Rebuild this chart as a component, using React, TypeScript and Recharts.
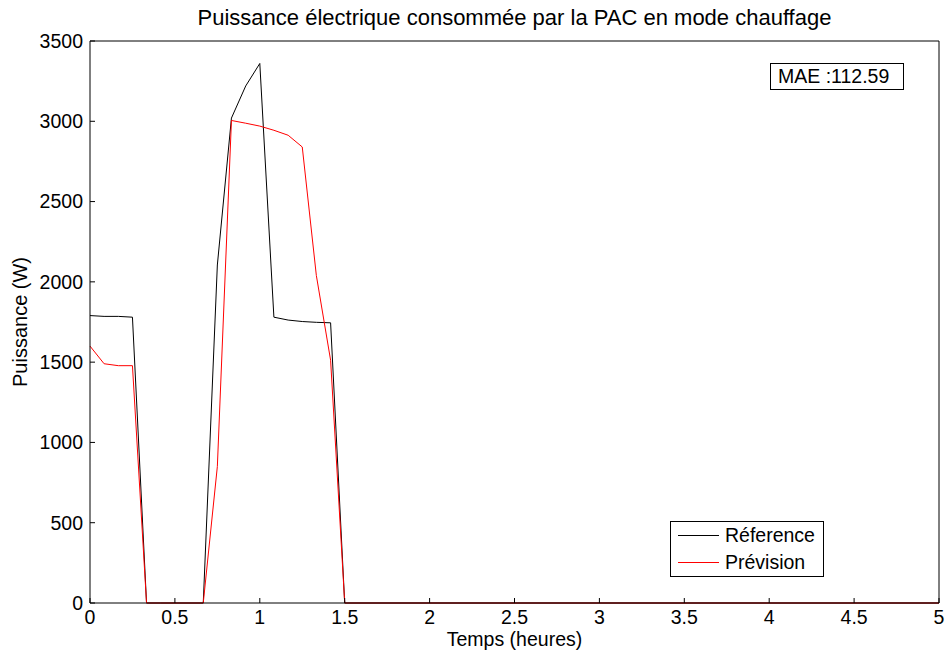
import { LineChart, Line, XAxis, YAxis, Legend } from 'recharts';

// temps en heures (pas de 5 min), puis plateau à 0 jusqu'à 5 h
const temps = [0, 0.083, 0.167, 0.25, 0.333, 0.417, 0.5, 0.583, 0.667, 0.75, 0.833, 0.917, 1, 1.083, 1.167, 1.25, 1.333, 1.417, 1.5, 5];
const reference = [1790, 1785, 1785, 1780, 0, 0, 0, 0, 0, 2105, 3020, 3220, 3360, 1780, 1762, 1753, 1748, 1745, 0, 0];
const prevision = [1600, 1490, 1478, 1478, 0, 0, 0, 0, 0, 850, 3005, 2988, 2970, 2944, 2913, 2840, 2040, 1512, 0, 0];

const xTicks = [0, 0.5, 1, 1.5, 2, 2.5, 3, 3.5, 4, 4.5, 5];
const yTicks = [0, 500, 1000, 1500, 2000, 2500, 3000, 3500];

const series = [
  { key: 'ref', name: 'Réference', color: '#000000' },
  { key: 'prev', name: 'Prévision', color: '#ff0000' },
];

const data = temps.map((t, i) => ({ t, ref: reference[i], prev: prevision[i] }));

const FONT = '"Liberation Sans", Arial, sans-serif';

function LegendBox() {
  return (
    <div style={{ border: '1px solid #000', background: '#fff', width: 154, height: 56, boxSizing: 'border-box', fontFamily: FONT, fontSize: 19.5, padding: '0 0 0 7px' }}>
      {series.map((s) => (
        <div key={s.key} style={{ display: 'flex', alignItems: 'center', height: 27 }}>
          <span style={{ display: 'inline-block', width: 41, height: 0, borderTop: `1px solid ${s.color}`, marginRight: 6 }} />
          <span>{s.name}</span>
        </div>
      ))}
    </div>
  );
}

export default function App() {
  const axisTick = { fill: '#000', fontSize: 19.5, fontFamily: FONT };
  return (
    <div style={{ position: 'absolute', left: 0, top: 0, width: 945, height: 652, background: '#fff', fontFamily: FONT }}>
      <div style={{ position: 'absolute', left: 90, width: 849, top: 5, textAlign: 'center', fontSize: 22, whiteSpace: 'nowrap' }}>
        Puissance électrique consommée par la PAC en mode chauffage
      </div>
      <div style={{ position: 'absolute', left: 20, top: 322, transform: 'translate(-50%, -50%) rotate(-90deg)', fontSize: 20, whiteSpace: 'nowrap' }}>
        Puissance (W)
      </div>
      <div style={{ position: 'absolute', left: 90, width: 849, top: 630, textAlign: 'center', fontSize: 19.5, lineHeight: 1 }}>
        Temps (heures)
      </div>
      <LineChart width={945} height={652} data={data} margin={{ top: 40, right: 5, bottom: 0, left: 0 }}>
        <XAxis xAxisId="b" dataKey="t" type="number" domain={[0, 5]} ticks={xTicks} interval={0}
          orientation="bottom" height={49} tickSize={-5} tickMargin={12}
          stroke="#000" tick={axisTick} tickFormatter={(v) => String(v)} />
        <XAxis xAxisId="t" dataKey="t" type="number" domain={[0, 5]} ticks={xTicks} interval={0}
          orientation="top" height={1} tickSize={-5} tick={false} stroke="#000" />
        <YAxis yAxisId="l" type="number" domain={[0, 3500]} ticks={yTicks} interval={0}
          orientation="left" width={90} tickSize={-5} tickMargin={12} stroke="#000" tick={axisTick} />
        <YAxis yAxisId="r" type="number" domain={[0, 3500]} ticks={yTicks} interval={0}
          orientation="right" width={1} tickSize={-5} tick={false} stroke="#000" />
        {series.map((s) => (
          <Line key={s.key} xAxisId="b" yAxisId="l" type="linear" dataKey={s.key} name={s.name}
            stroke={s.color} strokeWidth={1} dot={false} activeDot={false} isAnimationActive={false} />
        ))}
        <Legend layout="vertical" align="center" verticalAlign="middle"
          wrapperStyle={{ position: 'absolute', left: 670, top: 521, width: 154, height: 56 }}
          content={() => <LegendBox />} />
      </LineChart>
      <div style={{ position: 'absolute', left: 770, top: 63, width: 134, height: 27, boxSizing: 'border-box', border: '1px solid #000', background: '#fff', fontSize: 19.5, lineHeight: '25px', paddingLeft: 7, whiteSpace: 'nowrap' }}>
        MAE :112.59
      </div>
    </div>
  );
}
